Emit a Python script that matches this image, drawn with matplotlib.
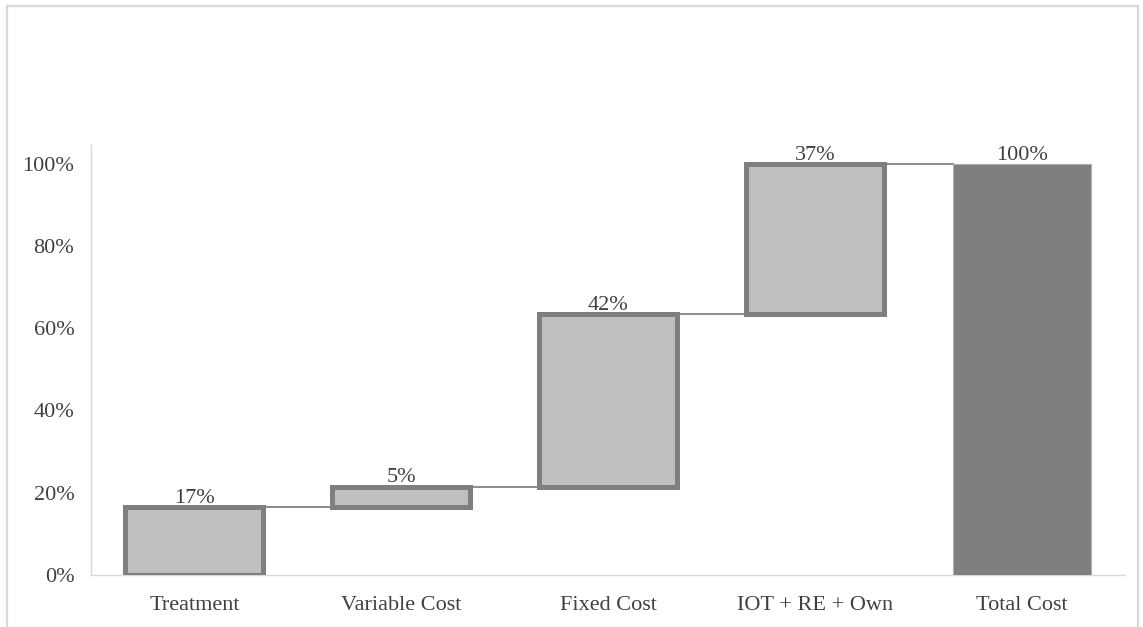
import matplotlib.pyplot as plt
from matplotlib.patches import Rectangle

# cost breakdown (share of total cost)
categories = ["Treatment", "Variable Cost", "Fixed Cost", "IOT + RE + Own", "Total Cost"]
steps = [0.166, 0.049, 0.419, 0.366]
total = sum(steps)
yticks = [0, 0.2, 0.4, 0.6, 0.8, 1.0]

plt.rcParams['font.family'] = ['Liberation Serif', 'DejaVu Serif']

fig = plt.figure(figsize=(11.43, 6.27), dpi=100)
# light frame round the whole chart area
fig.patches.append(Rectangle((0.0065, -0.01), 0.9895, 1.0, transform=fig.transFigure,
                             fill=False, edgecolor='#d9d9d9', linewidth=1.6))
ax = fig.add_axes([0.0796, 0.083, 0.905, 0.686])

width = 0.667
fill = '#bfbfbf'
edge = '#7f7f7f'

bottoms = []
run = 0
for v in steps:
    bottoms.append(run)
    run += v

x = list(range(len(categories)))
ax.bar(x[:-1], steps, bottom=bottoms, width=width, color=fill, edgecolor=edge,
       linewidth=3.6, zorder=3)
ax.bar(x[-1], total, width=width, color=edge, edgecolor='#b0b0b0', linewidth=0.8, zorder=3)

# connectors between consecutive bars
tops = [b + v for b, v in zip(bottoms, steps)]
for i, t in enumerate(tops):
    ax.plot([i + width / 2, i + 1 - width / 2], [t, t], color='#8c8c8c', linewidth=1.4, zorder=2)

# value labels
for i, (b, v) in enumerate(zip(bottoms, steps)):
    ax.text(i, b + v - 0.002, f"{v:.0%}", ha='center', va='bottom', fontsize=16, color='#404040')
ax.text(x[-1], total - 0.002, f"{total:.0%}", ha='center', va='bottom', fontsize=16, color='#404040')

ax.set_xlim(-0.5, len(categories) - 0.5)
ax.set_ylim(0, 1.046)
ax.set_yticks(yticks)
ax.set_yticklabels([f"{t:.0%}" for t in yticks])
ax.set_xticks(x)
ax.set_xticklabels(categories)
ax.tick_params(axis='both', length=0, labelsize=16, labelcolor='#404040')
ax.tick_params(axis='x', pad=15)
ax.tick_params(axis='y', pad=12)

for s in ['top', 'right']:
    ax.spines[s].set_visible(False)
ax.spines['left'].set_color('#d9d9d9')
ax.spines['bottom'].set_color('#d9d9d9')
ax.spines['left'].set_linewidth(1.0)
ax.spines['bottom'].set_linewidth(1.0)

fig.savefig("out.png", dpi=100)
